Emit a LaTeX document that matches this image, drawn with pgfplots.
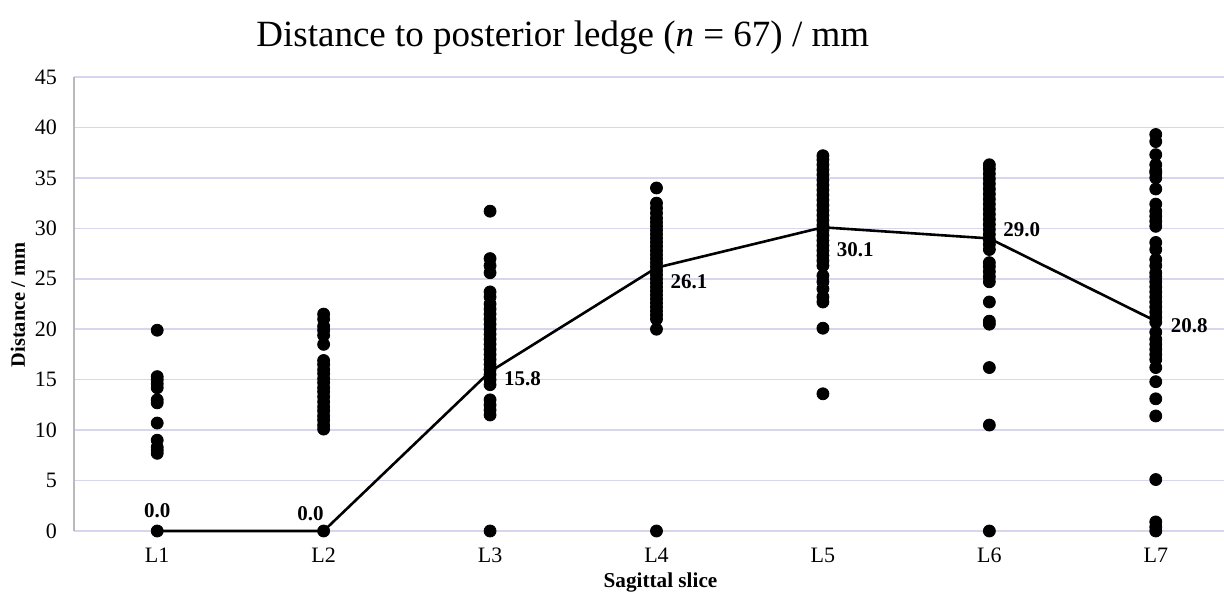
\documentclass[border=0pt]{standalone}
\usepackage{fontspec}
\setmainfont{Liberation Serif}
\usepackage{pgfplots}
\usepackage{pgfplotstable}
\pgfplotsset{compat=1.18}
\definecolor{gridc}{RGB}{214,215,238}
\definecolor{yaxc}{RGB}{185,185,185}

\pgfplotstableread{
x y
1 0
1 7.7
1 8.0
1 8.3
1 9.0
1 10.7
1 12.7
1 13.0
1 14.2
1 14.6
1 15.0
1 15.3
1 19.9
2 0
2 10.1
2 10.5
2 11.0
2 11.4
2 11.9
2 12.3
2 12.8
2 13.3
2 13.8
2 14.2
2 14.7
2 15.1
2 15.6
2 16.0
2 16.5
2 16.9
2 18.5
2 19.4
2 19.9
2 20.3
2 21.0
2 21.5
3 0
3 11.5
3 12.0
3 12.5
3 13.0
3 14.5
3 15.0
3 15.5
3 16.0
3 16.5
3 17.0
3 17.5
3 18.0
3 18.5
3 19.0
3 19.5
3 20.0
3 20.5
3 21.0
3 21.5
3 22.0
3 22.5
3 23.2
3 23.7
3 25.6
3 26.3
3 27.0
3 31.7
4 0
4 20.0
4 21.0
4 21.4
4 21.8
4 22.2
4 22.6
4 23.0
4 23.4
4 23.8
4 24.2
4 24.6
4 25.0
4 25.4
4 25.8
4 26.2
4 26.6
4 27.0
4 27.4
4 27.8
4 28.2
4 28.6
4 29.0
4 29.4
4 29.8
4 30.2
4 30.6
4 31.0
4 31.5
4 32.0
4 32.5
4 34.0
5 13.6
5 20.1
5 22.7
5 23.2
5 24.0
5 24.7
5 25.3
5 26.3
5 26.8
5 27.3
5 27.8
5 28.3
5 28.8
5 29.3
5 29.8
5 30.3
5 30.8
5 31.3
5 31.8
5 32.3
5 32.8
5 33.3
5 33.8
5 34.3
5 34.8
5 35.3
5 35.8
5 36.3
5 36.8
5 37.2
6 0
6 10.5
6 16.2
6 20.5
6 20.8
6 22.7
6 24.7
6 25.2
6 25.7
6 26.2
6 26.6
6 27.9
6 28.4
6 28.9
6 29.4
6 29.9
6 30.4
6 30.9
6 31.4
6 31.9
6 32.4
6 32.9
6 33.4
6 33.9
6 34.4
6 34.9
6 35.4
6 35.9
6 36.3
7 0
7 0.4
7 0.9
7 5.1
7 11.4
7 13.1
7 14.8
7 16.2
7 17.0
7 17.5
7 18.0
7 18.5
7 19.0
7 19.7
7 20.7
7 21.2
7 21.7
7 22.2
7 22.7
7 23.2
7 23.7
7 24.2
7 24.7
7 25.2
7 25.6
7 26.3
7 26.9
7 27.9
7 28.6
7 30.2
7 30.7
7 31.2
7 31.7
7 32.4
7 33.9
7 35.0
7 35.5
7 35.7
7 36.3
7 37.3
7 38.6
7 39.3
}\dots

\pgfplotstableread{
x y
1 0.0
2 0.0
3 15.8
4 26.1
5 30.1
6 29.0
7 20.8
}\means

\begin{document}
\begin{tikzpicture}
\begin{axis}[
  scale only axis,
  width=575bp, height=227bp,
  xmin=0.5, xmax=7.41,
  ymin=0, ymax=45,
  xtick={1,...,7},
  xticklabels={L1,L2,L3,L4,L5,L6,L7},
  ytick={0,5,...,45},
  ymajorgrids,
  grid style={draw=gridc, line width=0.8bp},
  axis x line*=bottom,
  axis y line*=left,
  x axis line style={draw=gridc, line width=0.8bp},
  y axis line style={draw=yaxc, line width=0.8bp},
  major tick length=0pt,
  tick label style={font=\fontsize{11bp}{12bp}\selectfont},
  /pgf/number format/assume math mode=true,
  yticklabel style={xshift=-5bp},
  xticklabel style={yshift=-5bp},
  clip=false,
  title={Distance to posterior ledge (\textit{n} = 67) / mm},
  title style={at={(axis description cs:0.425,1.0595)}, anchor=center, yshift=0pt, font=\fontsize{18.5bp}{21bp}\selectfont},
  xlabel={\textbf{Sagittal slice}},
  xlabel style={at={(axis description cs:0.51,-0.114)}, anchor=center, font=\fontsize{10.6bp}{12bp}\selectfont},
  ylabel={\textbf{Distance / mm}},
  ylabel style={at={(axis description cs:-0.0487,0.498)}, anchor=center, font=\fontsize{10.2bp}{12bp}\selectfont},
]
\addplot[only marks, mark=*, mark size=3bp, black, mark options={draw=black, fill=black}] table[x=x, y=y] {\dots};
\addplot[sharp plot, black, line width=1.3bp, mark=none] table[x=x, y=y] {\means};
\begin{scope}[font=\bfseries\fontsize{10.5bp}{12bp}\selectfont]
\node[anchor=south] at (axis cs:1,0) [yshift=3bp] {0.0};
\node[anchor=south east] at (axis cs:2,0) [yshift=1.5bp, xshift=3.5bp] {0.0};
\node[anchor=west] at (axis cs:3,15.8) [xshift=3.5bp, yshift=-3.5bp] {15.8};
\node[anchor=west] at (axis cs:4,26.1) [xshift=3.5bp, yshift=-7bp] {26.1};
\node[anchor=west] at (axis cs:5,30.1) [xshift=3.5bp, yshift=-11bp] {30.1};
\node[anchor=west] at (axis cs:6,29.0) [xshift=3.5bp, yshift=4.5bp] {29.0};
\node[anchor=west] at (axis cs:7,20.8) [xshift=4bp, yshift=-2.5bp] {20.8};
\end{scope}
\end{axis}
\pgfresetboundingbox
\path[use as bounding box] (-37bp,-30.5bp) rectangle (575bp,265.5bp);
\end{tikzpicture}
\end{document}
